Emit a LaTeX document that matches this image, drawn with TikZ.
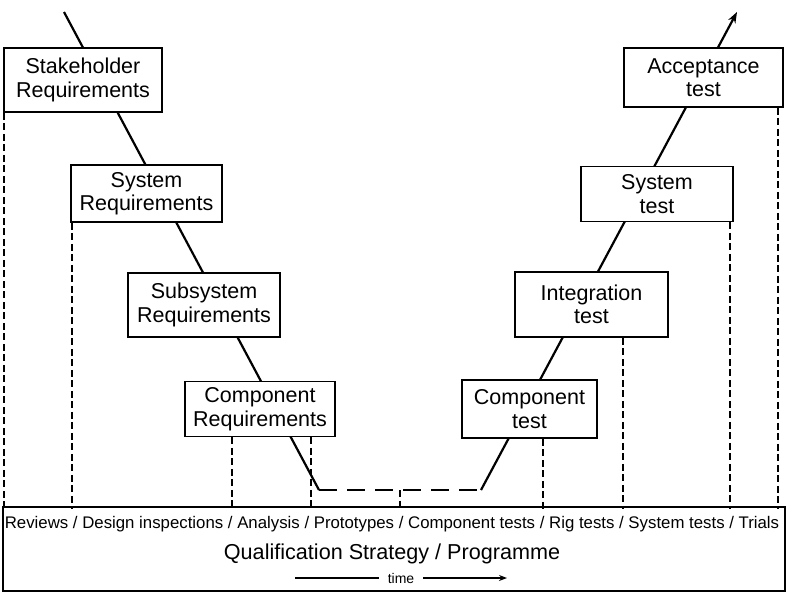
\documentclass[tikz,border=0pt]{standalone}
\usepackage{fontspec}
\setmainfont{Liberation Sans}
\usetikzlibrary{arrows.meta,calc}
\begin{document}
\begin{tikzpicture}[x=1pt,y=-1pt,thick,
  vbox/.style={draw, line width=1.8pt, fill=white, align=center, inner sep=0pt, font=\fontsize{21.5}{23.5}\selectfont},
  guide/.style={line width=1.4pt, dash pattern=on 7pt off 3.5pt}]
\useasboundingbox (0,0) rectangle (796,598);
%%%%%%%%%%%%%%%%%%%%%%%%%%%%%%%%%%%%%%%%%%% HELP LINES
%\draw[help lines] (0,0) grid (796,598);

%%%%%%%%%%%%%%%%%%%%%%%%%%%%%%%%%%%%%%%%%%% the V
\coordinate (vtop) at (64,12);
\coordinate (vbl) at (319,490);
\coordinate (vbr) at (481,490);
\coordinate (vend) at (737,12);
\draw[line width=2.2pt] (vtop) -- (vbl);
\draw[line width=2.6pt, dash pattern=on 18pt off 10pt] (vbl) -- (vbr);
\draw[line width=2.2pt, -{Stealth[length=11pt,width=8pt]}] (vbr) -- (vend);

%%%%%%%%%%%%%%%%%%%%%%%%%%%%%%%%%%%%%%%%%%% elements
\node[vbox, minimum width=158pt, minimum height=64pt] (stake) at (83,80) {Stakeholder\\Requirements};
\node[vbox, minimum width=151pt, minimum height=57pt] (sysreq) at (146.5,193.5) {System\\Requirements};
\node[vbox, minimum width=152pt, minimum height=64pt] (subreq) at (204,305) {Subsystem\\Requirements};
\node[vbox, minimum width=150pt, minimum height=55pt] (compreq) at (260,409) {Component\\Requirements};
\node[vbox, minimum width=135pt, minimum height=58pt] (comptest) at (529.5,409) {Component\\test};
\node[vbox, minimum width=153pt, minimum height=65pt] (integ) at (591.5,304.5) {Integration\\test};
\node[vbox, minimum width=152pt, minimum height=55pt] (systest) at (657,194) {System\\test};
\node[vbox, minimum width=159pt, minimum height=59pt] (accept) at (703.5,77.5) {Acceptance\\test};

%%%%% strategy box
\node[draw, line width=1.8pt, minimum width=782pt, minimum height=84pt, inner sep=0pt] (qual) at (394,549) {};
\node[anchor=base, inner sep=0pt, font=\fontsize{16.8}{19}\selectfont] (methods) at (392,528)
  {Reviews / Design inspections / Analysis / Prototypes / Component tests / Rig tests / System tests / Trials};
\node[anchor=base, inner sep=0pt, font=\fontsize{21.6}{25}\selectfont] (strategy) at (392,559) {Qualification Strategy / Programme};
\coordinate (t1) at (295,578);
\coordinate (t2) at (507,578);
\draw[line width=1.5pt, -{Stealth[length=8pt,width=6pt]}] (t1) -- node[fill=white, inner xsep=9pt, inner ysep=1pt, font=\fontsize{14}{16}\selectfont]{time} (t2);

%%%%% guide lines
\draw[guide] (stake.south west) ++(1,0) coordinate (g1) -- ([yshift=-3pt]g1 |- qual.north);
\draw[guide] (sysreq.south west) ++(2,0) coordinate (g2) -- ([yshift=-3pt]g2 |- qual.north);
\draw[guide] (compreq.south west) ++(48,0) coordinate (g3) -- ([yshift=-3pt]g3 |- qual.north);
\draw[guide] (compreq.south east) ++(-25,0) coordinate (g4) -- ([yshift=-3pt]g4 |- qual.north);
\draw[guide] ($(vbl)!0.5!(vbr)$) coordinate (g5) -- ([yshift=-3pt]g5 |- qual.north);
\draw[guide] (comptest.south east) ++(-55,0) coordinate (g6) -- ([yshift=-3pt]g6 |- qual.north);
\draw[guide] (integ.south west) ++(109,0) coordinate (g7) -- ([yshift=-3pt]g7 |- qual.north);
\draw[guide] (systest.south east) ++(-4,0) coordinate (g8) -- ([yshift=-3pt]g8 |- qual.north);
\draw[guide] (accept.south east) ++(-6,0) coordinate (g9) -- ([yshift=-3pt]g9 |- qual.north);

\end{tikzpicture}
\end{document}
